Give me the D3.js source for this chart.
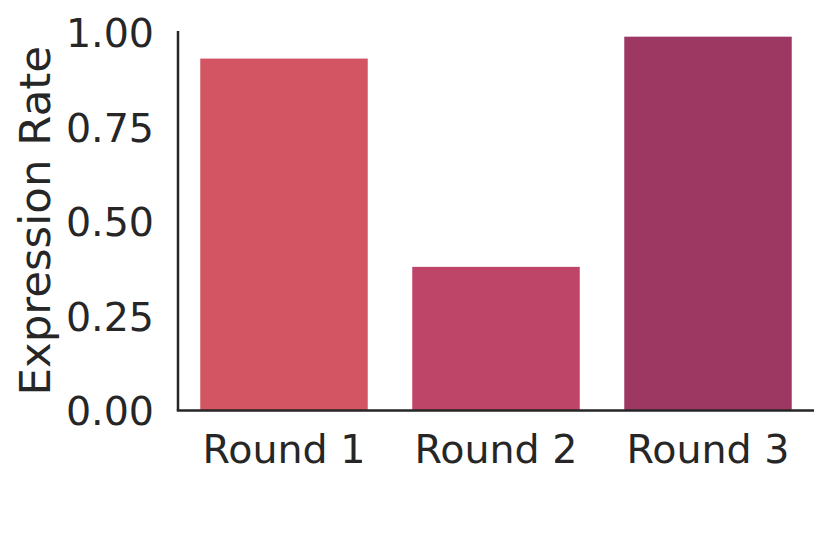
<!DOCTYPE html>
<html>
<head>
<meta charset="utf-8">
<script src="https://cdn.jsdelivr.net/npm/d3@7"></script>
<style>
  html, body { margin: 0; padding: 0; background: #ffffff; }
  svg { display: block; }
  text { font-family: "DejaVu Sans", sans-serif; fill: #262626; }
</style>
</head>
<body>
<script>
const categories = ["Round 1", "Round 2", "Round 3"];
const values = [0.931, 0.380, 0.989];
const colors = ["#d35564", "#be4468", "#9d3863"];
const yTicks = [0, 0.25, 0.5, 0.75, 1.0];
const yLabel = "Expression Rate";

const W = 829, H = 539;
const mLeft = 178, mRight = 814, mTop = 31, mBottom = 410.5;

const svg = d3.select("body").append("svg").attr("width", W).attr("height", H);

const x = d3.scaleBand().domain(categories).range([mLeft, mRight]).paddingInner(0.21).paddingOuter(0.105);
const y = d3.scaleLinear().domain([0, 1.004]).range([mBottom, mTop]);

// bars
svg.append("g").selectAll("rect").data(categories).join("rect")
  .attr("x", d => x(d))
  .attr("width", x.bandwidth())
  .attr("y", (d, i) => y(values[i]))
  .attr("height", (d, i) => y(0) - y(values[i]))
  .attr("fill", (d, i) => colors[i]);

// y axis
const yAxis = d3.axisLeft(y).tickValues(yTicks).tickSize(0).tickPadding(24)
  .tickFormat(d3.format(".2f"));
const gy = svg.append("g").attr("transform", `translate(${mLeft},0)`).call(yAxis);
gy.select(".domain").attr("stroke", "#262626").attr("stroke-width", 2.5)
  .attr("d", `M0,${mTop}V${mBottom}`);
gy.selectAll(".tick text")
  .attr("font-size", "39.6px")
  .attr("font-family", "DejaVu Sans, sans-serif")
  .attr("fill", "#262626")
  .attr("dy", "0.36em");

// x axis
const xAxis = d3.axisBottom(x).tickSize(0).tickPadding(0);
const gx = svg.append("g").attr("transform", `translate(0,${mBottom})`).call(xAxis);
gx.select(".domain").attr("stroke", "#262626").attr("stroke-width", 2.5)
  .attr("d", `M${mLeft - 1.25},0H${mRight}`);
gx.selectAll(".tick text")
  .attr("font-size", "39.6px")
  .attr("font-family", "DejaVu Sans, sans-serif")
  .attr("fill", "#262626")
  .attr("y", 0)
  .attr("dy", 0)
  .attr("transform", "translate(0,52.5)");

// y label
svg.append("text")
  .attr("transform", `translate(50,${(mTop + mBottom) / 2}) rotate(-90)`)
  .attr("text-anchor", "middle")
  .attr("font-size", "43.5px")
  .text(yLabel);
</script>
</body>
</html>
